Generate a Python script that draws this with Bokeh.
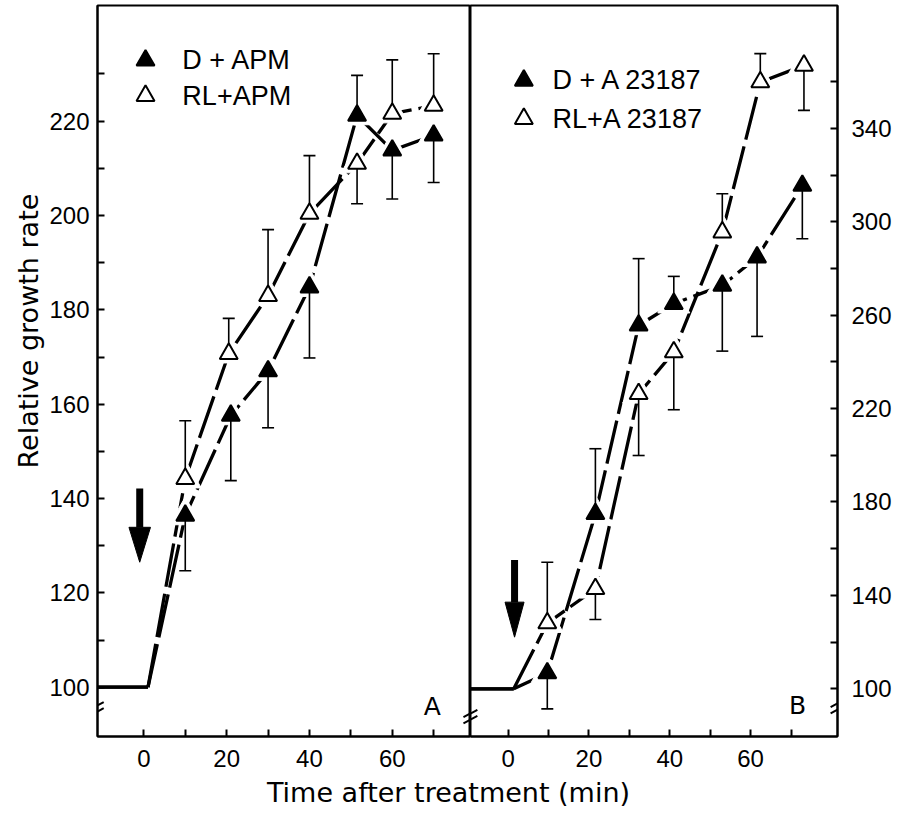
import math
from bokeh.plotting import figure
from bokeh.layouts import column, row
from bokeh.models import FixedTicker, Arrow, Title
from bokeh.core.properties import value
from bokeh.embed import file_html
from bokeh.resources import INLINE

# ---------------- data ----------------
BASE = 100.0
# Panel A
a_t_d = [10, 21, 30, 40, 51.5, 60, 70]
a_d_apm = [136.4, 157.6, 167.0, 184.8, 221.2, 213.8, 217.0]
a_d_err = [11.7, 13.8, 12.0, 15.0, 8.5, 10.3, 10.0]
a_d_side = [-1, -1, -1, -1, 1, -1, -1]
a_t_rl = [10, 20.5, 30, 40, 51.5, 60, 70]
a_rl_apm = [144.2, 170.7, 183.0, 200.4, 211.0, 221.6, 223.3]
a_rl_err = [12.3, 7.5, 14.0, 12.3, 8.5, 11.4, 11.0]
a_rl_side = [1, 1, 1, 1, -1, 1, 1]
a_t0 = 1.0
# Panel B
b_t_d = [9.7, 21.6, 32.3, 41.0, 53.0, 61.6, 72.8]
b_d_a23 = [106.7, 174.9, 255.6, 264.9, 272.7, 284.8, 315.5]
b_d_err = [15.3, 27.9, 28.6, 11.7, 28.1, 33.9, 22.8]
b_d_side = [-1, 1, 1, 1, -1, -1, -1]
b_t_rl = [9.7, 21.6, 32.3, 41.0, 53.0, 62.4, 73.2]
b_rl_a23 = [128.1, 142.8, 226.3, 244.2, 295.5, 359.8, 366.9]
b_rl_err = [26.1, 13.1, 26.4, 24.7, 16.5, 12.2, 19.2]
b_rl_side = [1, -1, -1, -1, 1, 1, -1]
b_t0 = 1.4

x_ticks = list(range(0, 80, 10))
x_labels = [0, 20, 40, 60]
a_y_ticks = list(range(100, 240, 10))
a_y_labels = list(range(100, 240, 20))
b_y_ticks = list(range(100, 380, 20))
b_y_labels = list(range(100, 380, 40))

# ---------------- style / geometry ----------------
NUM_FONT = "Liberation Sans"
LAB_FONT = "DejaVu Sans"
A_X = (-11.2, 78.9)
A_Y = (89.55, 244.52)
B_X = (-9.3, 81.5)
B_Y = (79.57, 392.6)
TOP = 5
FRAME_H = 731
BOTTOM = 42
FIG_H = TOP + FRAME_H + BOTTOM
MSIZE = 18


def make_fig(xr, yr, width, left, right, yloc):
    p = figure(width=width, height=FIG_H, x_range=xr, y_range=yr,
               output_backend="svg", toolbar_location=None, tools="",
               y_axis_location=yloc, min_border_left=left,
               min_border_right=right, min_border_top=TOP, min_border_bottom=BOTTOM)
    p.grid.visible = False
    p.outline_line_color = "black"
    p.outline_line_width = 2
    p.outline_line_alpha = 1
    p.background_fill_color = "white"
    p.border_fill_color = "white"
    for ax in p.axis:
        ax.axis_line_width = 2
        ax.major_tick_line_width = 2
        ax.major_tick_in = 7
        ax.major_tick_out = 0
        ax.minor_tick_line_color = None
        ax.major_label_text_font = NUM_FONT
        ax.major_label_text_font_size = "24px"
        ax.major_label_text_color = "black"
    p.xaxis.ticker = FixedTicker(ticks=x_ticks)
    p.xaxis.major_label_overrides = {t: " " for t in x_ticks if t not in x_labels}
    p.xaxis.major_label_standoff = 8
    return p


pa = make_fig(A_X, A_Y, 470, 97, 0, "left")
pa.yaxis.ticker = FixedTicker(ticks=a_y_ticks)
pa.yaxis.major_label_overrides = {t: " " for t in a_y_ticks if t not in a_y_labels}
pa.yaxis.major_label_standoff = 8

pb = make_fig(B_X, B_Y, 433, 0, 66, "right")
pb.yaxis.ticker = FixedTicker(ticks=b_y_ticks)
pb.yaxis.major_label_overrides = {t: " " for t in b_y_ticks if t not in b_y_labels}
pb.yaxis.major_label_standoff = 14


def draw_panel(p, xr, t0, series):
    for t, v, err, side, filled in series:
        p.line([xr[0], t0], [BASE, BASE], line_width=3.3, color="black")
        p.line([t0] + t, [BASE] + v, line_width=3.3, color="black", line_dash="44 7")
    for t, v, err, side, filled in series:
        p.scatter(t, v, marker="triangle", size=MSIZE + 14, fill_color="white", line_color="white")
    for t, v, err, side, filled in series:
        ends = [vi + s * e for vi, s, e in zip(v, side, err)]
        p.segment(t, v, t, ends, line_width=1.6, color="black")
        p.scatter(t, ends, marker="dash", size=12, line_width=1.6, line_color="black")
    for t, v, err, side, filled in series:
        p.scatter(t, v, marker="triangle", size=MSIZE, line_width=2, line_color="black",
                  fill_color="black" if filled else "white")


draw_panel(pa, A_X, a_t0, [
    (a_t_rl, a_rl_apm, a_rl_err, a_rl_side, False),
    (a_t_d, a_d_apm, a_d_err, a_d_side, True),
])
draw_panel(pb, B_X, b_t0, [
    (b_t_rl, b_rl_a23, b_rl_err, b_rl_side, False),
    (b_t_d, b_d_a23, b_d_err, b_d_side, True),
])


def legend(p, mx, tx, ys, labels):
    for y, lab, filled in zip(ys, labels, [True, False]):
        p.scatter([mx], [y], marker="triangle", size=MSIZE, line_width=2, line_color="black",
                  fill_color="black" if filled else "white")
        p.text([tx], [y], text=[lab], text_font=value(NUM_FONT), text_font_size="27px",
               text_baseline="middle", text_align="left", text_color="black")


legend(pa, 0.4, 9.3, [232.9, 225.4], ["D + APM", "RL+APM"])
legend(pb, 3.9, 11.0, [360.5, 344.1], ["D + A 23187", "RL+A 23187"])


def down_arrow(p, x, top, base, tip, half):
    p.segment([x], [top], [x], [base], line_width=7, color="black")
    p.patch([x - half, x + half, x], [base, base, tip], color="black")


down_arrow(pa, -1.0, 142.1, 133.9, 126.5, 2.6)
down_arrow(pb, 1.6, 155.1, 137.1, 122.1, 2.35)

pa.text([69.7], [95.9], text=["A"], text_font=value(LAB_FONT), text_font_size="25px",
        text_align="center", text_baseline="middle")
pb.text([71.6], [92.8], text=["B"], text_font=value(LAB_FONT), text_font_size="25px",
        text_align="center", text_baseline="middle")


def brk(p, x, yc, dx, dy, gap):
    for k in (-0.5, 0.5):
        y = yc + k * gap
        p.add_layout(Arrow(start=None, end=None, x_start=x - dx, y_start=y - dy,
                           x_end=x + dx, y_end=y + dy, line_width=2, line_color="black",
                           level="overlay"))


brk(pa, A_X[0], 95.5, 1.5, 0.7, 1.3)
brk(pa, A_X[1], 93.8, 1.7, 0.8, 1.3)
brk(pb, B_X[0], 88.1, 1.7, 1.6, 2.6)
brk(pb, B_X[1], 92.4, 1.7, 1.6, 2.6)

ylab = Title(text="Relative growth rate", align="left", offset=268,
             text_font=LAB_FONT, text_font_size="27px", text_font_style="normal",
             text_color="black", standoff=6)
pa.add_layout(ylab, "left")

LBL_H = 30
pl = figure(width=903, height=LBL_H, x_range=(0, 903), y_range=(0, LBL_H),
            output_backend="svg", toolbar_location=None, tools="",
            x_axis_location=None, y_axis_location=None, min_border=0)
pl.grid.visible = False
pl.outline_line_color = None
pl.text([448], [16], text=["Time after treatment (min)"], text_font=value(LAB_FONT),
        text_font_size="27px", text_align="center", text_baseline="middle", text_color="black")

layout = column(row(pa, pb), pl)
open("out.html", "w").write(file_html(layout, INLINE))
